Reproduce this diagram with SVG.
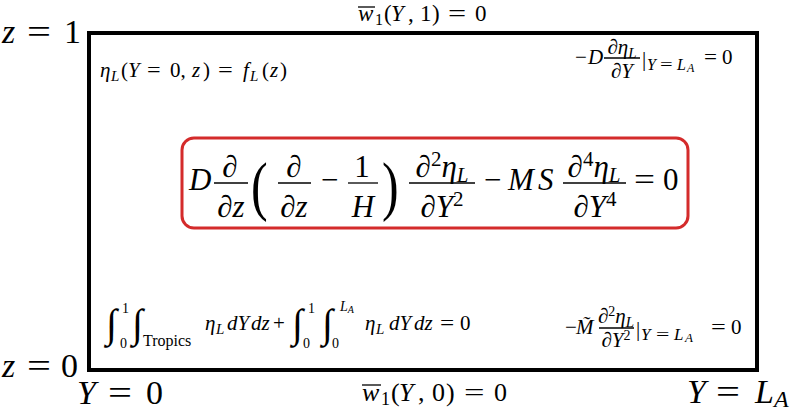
<svg xmlns="http://www.w3.org/2000/svg" width="800" height="412" viewBox="0 0 800 412">
<style>
.t{font-family:"Liberation Serif","Times New Roman",serif;fill:#000}
.i{font-style:italic}
.bar{stroke:#000;stroke-width:1.3}
.big{font-size:34px}
.s{font-size:21px}
.m{font-size:31px}
</style>
<rect width="800" height="412" fill="#fff"/>
<g id="domain">
<rect x="89" y="33" width="668" height="337" fill="none" stroke="#000" stroke-width="4"/>
</g>
<g id="axis-labels">
<text class="t big i" x="2" y="43">z</text>
<text class="t big" transform="translate(27,43) scale(1.25,1)">=</text>
<text class="t big" x="64" y="43">1</text>
<text class="t big i" x="2" y="377">z</text>
<text class="t big" transform="translate(27,377) scale(1.25,1)">=</text>
<text class="t big" x="61" y="377">0</text>
<text class="t big i" x="77" y="404">Y</text>
<text class="t big" transform="translate(108,404) scale(1.25,1)">=</text>
<text class="t big" x="146" y="404">0</text>
<text class="t big i" x="687" y="403">Y</text>
<text class="t big" transform="translate(716,403) scale(1.25,1)">=</text>
<text class="t big i" y="403"><tspan x="755">L</tspan><tspan font-size="24" dy="4">A</tspan></text>
</g>
<g id="top-bc">
<line class="bar" x1="358" y1="7" x2="375" y2="7"/>
<text class="t" font-size="23" y="21"><tspan class="i" x="358">w</tspan><tspan font-size="16" x="375" dy="4">1</tspan><tspan x="384" dy="-4">(</tspan><tspan class="i" x="391">Y</tspan><tspan x="408">,</tspan><tspan x="420">1</tspan><tspan x="432">)</tspan></text>
<text class="t" font-size="23" transform="translate(448,21) scale(1.4,1)">=</text>
<text class="t" font-size="23" x="475" y="21">0</text>
</g>
<g id="bottom-bc">
<line class="bar" x1="362" y1="385" x2="381" y2="385"/>
<text class="t" font-size="26" y="401"><tspan class="i" x="362">w</tspan><tspan font-size="18" x="381" dy="4">1</tspan><tspan x="391" dy="-4">(</tspan><tspan class="i" x="399">Y</tspan><tspan x="418">,</tspan><tspan x="432">0</tspan><tspan x="446">)</tspan></text>
<text class="t" font-size="26" transform="translate(464,401) scale(1.4,1)">=</text>
<text class="t" font-size="26" x="494" y="401">0</text>
</g>
<g id="left-bc">
<text class="t s" y="77"><tspan class="i" x="100">η</tspan><tspan class="i" font-size="15" x="111" dy="4">L</tspan><tspan x="121" dy="-4">(</tspan><tspan class="i" x="128">Y</tspan><tspan x="170">0,</tspan><tspan class="i" x="192">z</tspan><tspan x="203">)</tspan><tspan class="i" x="243">f</tspan><tspan class="i" font-size="15" x="250" dy="4">L</tspan><tspan x="262" dy="-4">(</tspan><tspan class="i" x="270">z</tspan><tspan x="280">)</tspan></text>
<text class="t s" transform="translate(147,77) scale(1.15,1)">=</text>
<text class="t s" transform="translate(218,77) scale(1.25,1)">=</text>
</g>
<g id="right-top-bc">
<text class="t s" y="64"><tspan x="575">−</tspan><tspan class="i" x="588">D</tspan></text>
<line class="bar" x1="604" y1="58" x2="640" y2="58"/>
<text class="t s i" x="622" y="54" text-anchor="middle">∂η<tspan font-size="15" dy="4">L</tspan></text>
<text class="t s i" x="622" y="78" text-anchor="middle">∂Y</text>
<text class="t s" x="642" y="66">|</text>
<text class="t i" font-size="16" y="70"><tspan x="647">Y</tspan><tspan x="677">L</tspan><tspan font-size="12" x="687" dy="2">A</tspan></text>
<text class="t" font-size="16" transform="translate(660,70) scale(1.4,1)">=</text>
<text class="t s" transform="translate(704,64) scale(1.1,1)">=</text>
<text class="t s" x="722" y="64">0</text>
</g>
<g id="governing-eq">
<rect x="182" y="138" width="506" height="90" rx="12" fill="none" stroke="#d42b2b" stroke-width="3"/>
<text class="t m i" x="189" y="190">D</text>
<line class="bar" x1="214" y1="183" x2="248" y2="183"/>
<text class="t m i" x="230" y="177" text-anchor="middle">∂</text>
<text class="t m i" x="231" y="217" text-anchor="middle">∂z</text>
<text class="t" font-size="50" transform="translate(251,208) scale(1,1.3)">(</text>
<line class="bar" x1="278" y1="183" x2="311" y2="183"/>
<text class="t m i" x="294" y="177" text-anchor="middle">∂</text>
<text class="t m i" x="294" y="217" text-anchor="middle">∂z</text>
<text class="t m" x="321" y="190">−</text>
<line class="bar" x1="348" y1="183" x2="378" y2="183"/>
<text class="t m" x="362" y="177" text-anchor="middle">1</text>
<text class="t m i" x="363" y="217" text-anchor="middle">H</text>
<text class="t" font-size="50" transform="translate(382,208) scale(1,1.3)">)</text>
<line class="bar" x1="409" y1="183" x2="475" y2="183"/>
<text class="t m i" x="442" y="177" text-anchor="middle">∂<tspan font-style="normal" font-size="21" dy="-11">2</tspan><tspan dy="11">η</tspan><tspan font-size="21" dy="5">L</tspan></text>
<text class="t m i" x="442" y="217" text-anchor="middle">∂Y<tspan font-style="normal" font-size="21" dy="-11">2</tspan></text>
<text class="t m" x="484" y="190">−</text>
<text class="t m i" y="190"><tspan x="508">M</tspan><tspan x="538">S</tspan></text>
<line class="bar" x1="563" y1="183" x2="626" y2="183"/>
<text class="t m i" x="594" y="177" text-anchor="middle">∂<tspan font-style="normal" font-size="21" dy="-11">4</tspan><tspan dy="11">η</tspan><tspan font-size="21" dy="5">L</tspan></text>
<text class="t m i" x="595" y="217" text-anchor="middle">∂Y<tspan font-style="normal" font-size="21" dy="-11">4</tspan></text>
<text class="t m" transform="translate(634,190) scale(1.2,1)">=</text>
<text class="t m" x="663" y="190">0</text>
</g>
<g id="integral-constraint">
<text class="t" font-size="40" x="106" y="337">∫</text>
<text class="t" font-size="14" x="122" y="313">1</text>
<text class="t" font-size="14" x="120" y="348">0</text>
<text class="t" font-size="40" x="132" y="337">∫</text>
<text class="t" font-size="16" x="143" y="346">Tropics</text>
<text class="t s" y="330"><tspan class="i" x="205">η</tspan><tspan class="i" font-size="15" x="216" dy="4">L</tspan><tspan class="i" x="227" dy="-4">dY</tspan><tspan class="i" x="251">dz</tspan><tspan x="273">+</tspan></text>
<text class="t" font-size="40" x="292" y="337">∫</text>
<text class="t" font-size="14" x="308" y="313">1</text>
<text class="t" font-size="14" x="303" y="348">0</text>
<text class="t" font-size="40" x="322" y="337">∫</text>
<text class="t i" font-size="14" x="340" y="311">L<tspan font-size="10" dy="2">A</tspan></text>
<text class="t" font-size="14" x="332" y="348">0</text>
<text class="t s" y="330"><tspan class="i" x="365">η</tspan><tspan class="i" font-size="15" x="376" dy="4">L</tspan><tspan class="i" x="389" dy="-4">dY</tspan><tspan class="i" x="414">dz</tspan><tspan x="460">0</tspan></text>
<text class="t s" transform="translate(440,330) scale(1.2,1)">=</text>
</g>
<g id="right-bottom-bc">
<text class="t s" y="334"><tspan x="565">−</tspan><tspan class="i" x="576">M&#x303;</tspan></text>
<line class="bar" x1="599" y1="328" x2="634" y2="328"/>
<text class="t s i" x="616" y="323" text-anchor="middle">∂<tspan font-style="normal" font-size="14" dy="-7">2</tspan><tspan dy="7">η</tspan><tspan font-size="15" dy="4">L</tspan></text>
<text class="t s i" x="616" y="347" text-anchor="middle">∂Y<tspan font-style="normal" font-size="14" dy="-7">2</tspan></text>
<text class="t s" x="636" y="336">|</text>
<text class="t i" font-size="17" y="340"><tspan x="641">Y</tspan><tspan x="674">L</tspan><tspan font-size="13" x="685" dy="2">A</tspan></text>
<text class="t" font-size="17" transform="translate(656,340) scale(1.4,1)">=</text>
<text class="t s" transform="translate(711,334) scale(1.25,1)">=</text>
<text class="t s" x="731" y="334">0</text>
</g>
</svg>
